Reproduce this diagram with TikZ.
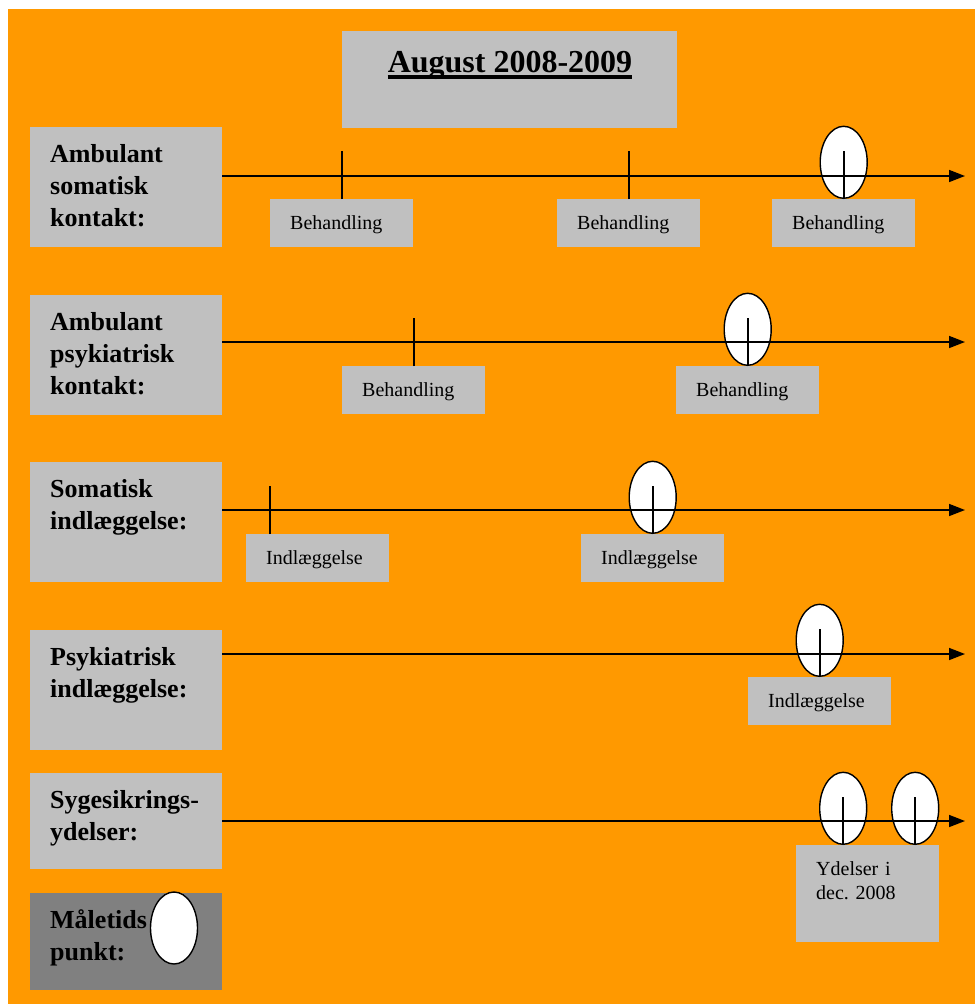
\documentclass[tikz,border=0pt]{standalone}
\usepackage{fontspec}
\setmainfont{Liberation Serif}
\usetikzlibrary{shapes.geometric,arrows.meta,calc}
\definecolor{baggrund}{HTML}{FF9900}
\definecolor{kasse}{HTML}{C0C0C0}
\definecolor{moerk}{HTML}{808080}
\tikzset{kategori/.style={
    fill=kasse, anchor=north west, inner sep=0pt,
    minimum width=192pt, minimum height=120pt},
  kattekst/.style={
    anchor=base west, inner sep=0pt, align=left,
    font=\fontsize{26}{32}\selectfont\bfseries},
  haendelse/.style={
    fill=kasse, anchor=north west, inner xsep=20pt, inner ysep=0pt,
    text width=103pt, align=left, minimum height=48pt,
    text height=14pt, text depth=2pt,
    font=\fontsize{20}{24}\selectfont\frenchspacing},
  tidslinje/.style={
    draw=black, line width=1.6pt, -{Triangle[length=16pt,width=12pt]}},
  streg/.style={
    draw=black, line width=1.6pt},
  maaling/.style={
    draw=black, fill=white, ellipse, line width=1.4pt,
    minimum width=47pt, minimum height=72pt, inner sep=0pt}}

\begin{document}
\begin{tikzpicture}[x=1pt,y=-1pt]
\useasboundingbox (0,0) rectangle (975,1005);
\fill[baggrund] (8,9) rectangle (975,1004);

% overskrift
\node[kategori, minimum width=335pt, minimum height=97pt] (titel) at (342,31) {};
\node[anchor=base, inner sep=0pt, font=\fontsize{32}{38}\selectfont\bfseries] (titeltekst) at (510,72) {August 2008-2009};
\draw[line width=3.3pt] ([yshift=-5pt]titeltekst.base west) -- ([yshift=-5pt]titeltekst.base east);

% kategorier (base = sidste linje)
\node[kategori] (amb1) at (30,127) {};
\node[kattekst] (amb1t) at ($(amb1.north west)+(20,99)$) {Ambulant\\somatisk\\kontakt:};
\node[kategori] (amb2) at (30,295) {};
\node[kattekst] (amb2t) at ($(amb2.north west)+(20,99)$) {Ambulant\\psykiatrisk\\kontakt:};
\node[kategori] (ind1) at (30,462) {};
\node[kattekst] (ind1t) at ($(ind1.north west)+(20,67)$) {Somatisk\\indlæggelse:};
\node[kategori] (ind2) at (30,630) {};
\node[kattekst] (ind2t) at ($(ind2.north west)+(20,67)$) {Psykiatrisk\\indlæggelse:};
\node[kategori, minimum height=96pt] (syg) at (30,773) {};
\node[kattekst] (sygt) at ($(syg.north west)+(20,67)$) {Sygesikrings-\\ydelser:};
\node[kategori, fill=moerk, minimum height=97pt] (maal) at (30,893) {};
\node[kattekst] (maalt) at ($(maal.north west)+(20,67)$) {Måletids\\punkt:};
\node[maaling] (maalpunkt) at (174,928) {};

\coordinate (L1) at (965,176);
\coordinate (L2) at (965,342);
\coordinate (L3) at (965,510);
\coordinate (L4) at (965,654);
\coordinate (L5) at (965,821);

% haendelser
\node[haendelse] (b11) at (270,199) {Behandling};
\node[haendelse] (b12) at (557,199) {Behandling};
\node[haendelse] (b13) at (772,199) {Behandling};
\node[haendelse] (b21) at (342,366) {Behandling};
\node[haendelse] (b22) at (676,366) {Behandling};
\node[haendelse] (b31) at (246,534) {Indlæggelse};
\node[haendelse] (b32) at (581,534) {Indlæggelse};
\node[haendelse] (b41) at (748,677) {Indlæggelse};
\node[haendelse, minimum height=97pt, text depth=51pt] (b51) at (796,845) {Ydelser i\\dec. 2008};

\node[maaling, anchor=south] (m13) at (b13.north) {};
\node[maaling, anchor=south] (m22) at (b22.north) {};
\node[maaling, anchor=south] (m32) at (b32.north) {};
\node[maaling, anchor=south] (m41) at (b41.north) {};
\node[maaling, anchor=south] (m51) at ([xshift=-24.5pt]b51.north) {};
\node[maaling, anchor=south] (m52) at ([xshift=47.5pt]b51.north) {};

% tidslinjer
\draw[tidslinje] (amb1.north east |- L1) -- (L1);
\draw[tidslinje] (amb2.north east |- L2) -- (L2);
\draw[tidslinje] (ind1.north east |- L3) -- (L3);
\draw[tidslinje] (ind2.north east |- L4) -- (L4);
\draw[tidslinje] (syg.north east |- L5) -- (L5);

\draw[streg] (b11.north) -- ++(0,-48);
\draw[streg] (b12.north) -- ++(0,-48);
\draw[streg] (b13.north) -- ++(0,-48);
\draw[streg] (b21.north) -- ++(0,-48);
\draw[streg] (b22.north) -- ++(0,-48);
\draw[streg] ([xshift=-48pt]b31.north) -- ++(0,-48);
\draw[streg] (b32.north) -- ++(0,-48);
\draw[streg] (b41.north) -- ++(0,-48);
\draw[streg] (m51.south) -- ++(0,-48);
\draw[streg] (m52.south) -- ++(0,-48);

\end{tikzpicture}
\end{document}
